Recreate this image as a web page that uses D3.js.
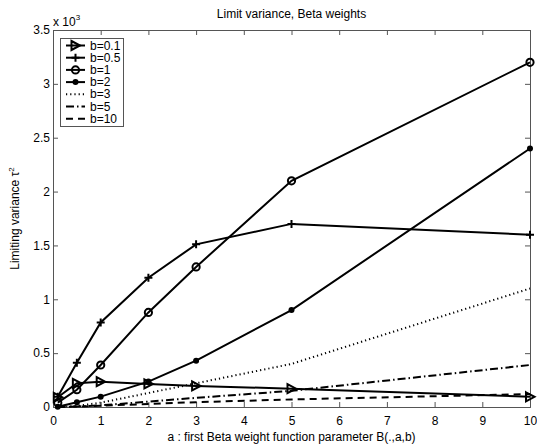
<!DOCTYPE html>
<html>
<head>
<meta charset="utf-8">
<script src="https://cdn.jsdelivr.net/npm/d3@7"></script>
<style>
  body { margin: 0; background: #fff; }
  text { font-family: "Liberation Sans", Arial, Helvetica, sans-serif; fill: #000; }
</style>
</head>
<body>
<div id="chart"></div>
<script>
// a values (x axis)
var aVals = [0.1, 0.5, 1, 2, 3, 5, 10];

// limiting variance, in units of 10^3
var b01 = [0.09, 0.22, 0.235, 0.214, 0.196, 0.17, 0.095];
var b05 = [0.096, 0.41, 0.785, 1.2, 1.51, 1.70, 1.60];
var b1 = [0.04, 0.16, 0.39, 0.878, 1.30, 2.10, 3.20];
var b2 = [0.003, 0.044, 0.096, 0.236, 0.43, 0.90, 2.40];
var b3 = [0.001, 0.01, 0.04, 0.13, 0.22, 0.40, 1.10];
var b5 = [0.0005, 0.005, 0.015, 0.05, 0.085, 0.15, 0.39];
var b10 = [0.0003, 0.004, 0.012, 0.028, 0.045, 0.07, 0.12];

var seriesNames = ["b=0.1", "b=0.5", "b=1", "b=2", "b=3", "b=5", "b=10"];
var xTicks = [0, 1, 2, 3, 4, 5, 6, 7, 8, 9, 10];
var yTicks = [0, 0.5, 1, 1.5, 2, 2.5, 3, 3.5];

var series = [
  { name: seriesNames[0], values: b01, marker: "tri", dash: null },
  { name: seriesNames[1], values: b05, marker: "plus", dash: null },
  { name: seriesNames[2], values: b1, marker: "circle", dash: null },
  { name: seriesNames[3], values: b2, marker: "dot", dash: null },
  { name: seriesNames[4], values: b3, marker: null, dash: "1.2,3" },
  { name: seriesNames[5], values: b5, marker: null, dash: "8,3,1.5,3" },
  { name: seriesNames[6], values: b10, marker: null, dash: "7,5" }
];

var W = 537, H = 445;
var mLeft = 53, mRight = 530, mTop = 30, mBottom = 407;

var svg = d3.select("#chart").append("svg")
  .attr("width", W)
  .attr("height", H);

var x = d3.scaleLinear().domain([0, 10]).range([mLeft, mRight]);
var y = d3.scaleLinear().domain([0, 3.5]).range([mBottom, mTop]);

/* Axes, MATLAB style box with inward ticks */
var fmt = d => d3.format("~g")(d);

svg.append("g")
  .attr("transform", `translate(0, ${mBottom})`)
  .call(d3.axisBottom(x).tickValues(xTicks).tickSize(-5).tickPadding(9).tickFormat(fmt))
  .call(g => g.selectAll("text").style("font-size", "12px"));

svg.append("g")
  .attr("transform", `translate(0, ${mTop})`)
  .call(d3.axisTop(x).tickValues(xTicks).tickSize(-5).tickFormat(""));

svg.append("g")
  .attr("transform", `translate(${mLeft}, 0)`)
  .call(d3.axisLeft(y).tickValues(yTicks).tickSize(-5).tickPadding(3).tickFormat(fmt))
  .call(g => g.selectAll("text").style("font-size", "12px"));

svg.append("g")
  .attr("transform", `translate(${mRight}, 0)`)
  .call(d3.axisRight(y).tickValues(yTicks).tickSize(-5).tickFormat(""));

svg.selectAll(".domain").attr("stroke", "#555");
svg.selectAll(".tick line").attr("stroke", "#555");

/* lines */
var line = d3.line()
  .x((d, i) => x(aVals[i]))
  .y(d => y(d));

function drawMarker(g, type, cx, cy) {
  if (type === "tri") {
    g.append("path")
      .attr("d", `M${cx - 4},${cy - 4.5} L${cx + 4.5},${cy} L${cx - 4},${cy + 4.5} Z`)
      .attr("fill", "none").attr("stroke", "#000").attr("stroke-width", 2)
      .attr("stroke-linejoin", "miter");
  } else if (type === "plus") {
    g.append("path")
      .attr("d", `M${cx - 4},${cy} H${cx + 4} M${cx},${cy - 4} V${cy + 4}`)
      .attr("stroke", "#000").attr("stroke-width", 2);
  } else if (type === "circle") {
    g.append("circle").attr("cx", cx).attr("cy", cy).attr("r", 3.6)
      .attr("fill", "none").attr("stroke", "#000").attr("stroke-width", 2);
  } else if (type === "dot") {
    g.append("circle").attr("cx", cx).attr("cy", cy).attr("r", 3)
      .attr("fill", "#000");
  }
}

var plot = svg.append("g");

series.slice().reverse().forEach(function(s) {
  plot.append("path")
    .attr("d", line(s.values))
    .attr("fill", "none")
    .attr("stroke", "#000")
    .attr("stroke-width", 2)
    .attr("stroke-dasharray", s.dash);
  if (s.marker) {
    var mg = plot.append("g");
    s.values.forEach(function(v, i) {
      drawMarker(mg, s.marker, x(aVals[i]), y(v));
    });
  }
});

/* legend */
var legend = svg.append("g");
legend.append("rect")
  .attr("x", 60.5).attr("y", 38.5)
  .attr("width", 63).attr("height", 88)
  .attr("fill", "#fff").attr("stroke", "#555");

series.forEach(function(s, i) {
  var ly = 45.5 + i * 12.2;
  legend.append("line")
    .attr("x1", 66).attr("x2", 85)
    .attr("y1", ly).attr("y2", ly)
    .attr("stroke", "#000").attr("stroke-width", 2)
    .attr("stroke-dasharray", s.dash);
  if (s.marker) drawMarker(legend, s.marker, 75.5, ly);
  legend.append("text")
    .attr("x", 90).attr("y", ly + 4)
    .style("font-size", "12px")
    .text(s.name);
});

/* titles */
svg.append("text")
  .attr("x", (mLeft + mRight) / 2).attr("y", 18)
  .attr("text-anchor", "middle")
  .style("font-size", "12px")
  .text("Limit variance, Beta weights");

svg.append("text")
  .attr("x", (mLeft + mRight) / 2).attr("y", 441)
  .attr("text-anchor", "middle")
  .style("font-size", "12px")
  .text("a : first Beta weight function parameter B(.,a,b)");

var yl = svg.append("text")
  .attr("transform", `translate(19, ${(mTop + mBottom) / 2}) rotate(-90)`)
  .attr("text-anchor", "middle")
  .style("font-size", "12px");
yl.append("tspan").text("Limiting variance  \u03c4");
yl.append("tspan").attr("dy", -5).style("font-size", "8px").text("2");

var ex = svg.append("text")
  .attr("x", 53).attr("y", 26)
  .style("font-size", "12px");
ex.append("tspan").text("x 10");
ex.append("tspan").attr("dy", -6).style("font-size", "8px").text("3");
</script>
</body>
</html>
